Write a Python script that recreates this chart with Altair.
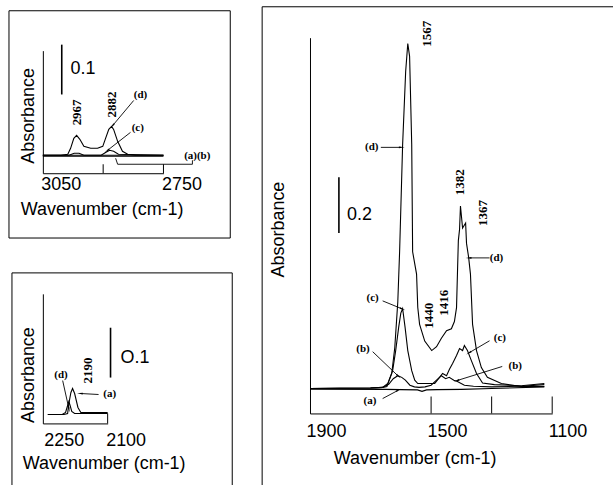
import math
import altair as alt
import pandas as pd

SANS = "Liberation Sans"
SERIF = "Liberation Serif"

# ---------------- Top-left panel: 3050-2750 cm-1 ----------------
TL_WN_A = [3050, 2750]
TL_AB_A = [0.0, 0.0]
TL_WN_B = [3050, 2750]
TL_AB_B = [-0.002, -0.002]
TL_WN_C = [3050, 2985, 2972, 2960, 2948, 2905, 2893, 2884, 2874, 2862, 2750]
TL_AB_C = [0.0, 0.0, 0.004, 0.004, 0.0, 0.0, 0.006, 0.010, 0.008, 0.002, 0.0]
TL_WN_D = [3050, 3005, 2988, 2981, 2973, 2966, 2958, 2948, 2931, 2914, 2901,
           2894, 2886, 2879, 2874, 2864, 2852, 2839, 2820, 2750]
TL_AB_D = [0.0, 0.0, 0.002, 0.014, 0.034, 0.040, 0.032, 0.018, 0.014, 0.014, 0.018,
           0.034, 0.052, 0.058, 0.052, 0.028, 0.008, 0.002, 0.0, 0.0]
TL_PEAK_TEXT = ["2967", "2882"]
TL_PEAK_WN = [2966, 2879]
TL_PEAK_AB = [0.086, 0.102]
TL_LET_TEXT = ["(d)", "(c)", "(a)(b)"]
TL_LET_WN = [2807, 2814, 2666]
TL_LET_AB = [0.120, 0.054, -0.002]
TL_ARROWS = [(2824, 0.110, 2876, 0.060), (2832, 0.046, 2889, 0.010)]
TL_LEADER_WN = [2869, 2864, 2678, 2678]
TL_LEADER_AB = [-0.006, -0.018, -0.018, -0.010]
TL_BAR = (3003, 0.122, 0.222)
TL_BAR_TEXT = ("0.1", 2981, 0.174)
TL_LABELS = [3050, 2750]
TL_TICKS = [2900, 2750]

# ---------------- Bottom-left panel: 2250-2100 cm-1 ----------------
BL_WN_A = [2245, 2206, 2197, 2194, 2189, 2185, 2180, 2172, 2165, 2134, 2100]
BL_AB_A = [0.0, 0.0, 0.002, 0.022, 0.044, 0.052, 0.042, 0.014, 0.004, 0.004, 0.004]
BL_WN_D = [2245, 2210, 2202, 2197, 2194, 2191, 2187, 2180, 2100]
BL_AB_D = [0.0, 0.0, 0.004, 0.018, 0.026, 0.018, 0.006, 0.002, 0.002]
BL_PEAK_TEXT = ["2190"]
BL_PEAK_WN = [2148]
BL_PEAK_AB = [0.088]
BL_LET_TEXT = ["(d)", "(a)"]
BL_LET_WN = [2213, 2095]
BL_LET_AB = [0.080, 0.042]
BL_ARROWS = [(2209, 0.068, 2194, 0.012), (2122, 0.040, 2165, 0.042)]
BL_BAR = (2093, 0.074, 0.174)
BL_BAR_TEXT = ("O.1", 2069, 0.114)
BL_LABELS = [2250, 2100]
BL_TICKS = [2100]

# ---------------- Right panel: 1900-1100 cm-1 ----------------
R_WN_A = [1900, 1650, 1600, 1545, 1530, 1515, 1480, 1400, 1300, 1126]
R_AB_A = [-0.002, -0.003, -0.004, -0.005, -0.010, -0.005, -0.004, -0.003, 0.0, 0.006]
R_WN_B = [1900, 1700, 1660, 1640, 1625, 1610, 1597, 1585, 1570, 1555, 1540, 1520,
          1500, 1482, 1466, 1452, 1440, 1425, 1413, 1390, 1360, 1300, 1200, 1126]
R_AB_B = [0.0, 0.002, 0.004, 0.015, 0.035, 0.046, 0.040, 0.030, 0.012, 0.006, 0.004, 0.006,
          0.012, 0.030, 0.046, 0.035, 0.040, 0.030, 0.025, 0.012, 0.008, 0.006, 0.008, 0.014]
R_WN_C = [1900, 1700, 1660, 1643, 1627, 1617, 1607, 1600, 1594, 1586, 1577, 1564, 1554,
          1544, 1511, 1488, 1472, 1462, 1449, 1439, 1429, 1416, 1406, 1396, 1390, 1380,
          1367, 1350, 1330, 1291, 1202, 1126]
R_AB_C = [0.0, 0.002, 0.004, 0.018, 0.064, 0.136, 0.220, 0.270, 0.286, 0.220, 0.136, 0.064, 0.030,
          0.018, 0.018, 0.018, 0.040, 0.054, 0.046, 0.070, 0.090, 0.118, 0.143, 0.136, 0.154, 0.136,
          0.100, 0.054, 0.020, 0.014, 0.010, 0.018]
R_WN_D = [1900, 1700, 1660, 1646, 1630, 1620, 1610, 1604, 1594, 1584, 1577, 1571, 1564,
          1561, 1548, 1544, 1538, 1521, 1498, 1482, 1466, 1449, 1433, 1423, 1416, 1413,
          1410, 1406, 1403, 1396, 1386, 1383, 1376, 1370, 1363, 1350, 1334, 1314, 1268,
          1202, 1126]
R_AB_D = [0.0, 0.002, 0.004, 0.007, 0.054, 0.146, 0.310, 0.490, 0.875, 1.136, 1.236, 1.190, 0.875,
          0.490, 0.410, 0.290, 0.230, 0.170, 0.136, 0.150, 0.180, 0.207, 0.214, 0.240, 0.290, 0.410,
          0.530, 0.570, 0.654, 0.575, 0.593, 0.520, 0.470, 0.410, 0.230, 0.136, 0.075, 0.040, 0.018,
          0.007, 0.007]
R_PEAK_TEXT = ["1567", "1382", "1367", "1440", "1416"]
R_PEAK_WN = [1515, 1406, 1330, 1508, 1456]
R_PEAK_AB = [1.271, 0.739, 0.629, 0.261, 0.307]
R_LET_TEXT = ["(d)", "(d)", "(c)", "(b)", "(a)", "(c)", "(b)"]
R_LET_WN = [1696, 1284, 1693, 1725, 1702, 1273, 1222]
R_LET_AB = [0.864, 0.468, 0.325, 0.143, -0.043, 0.182, 0.079]
R_ARROWS = [(1666, 0.864, 1600, 0.864), (1307, 0.468, 1373, 0.468),
            (1660, 0.314, 1597, 0.286), (1693, 0.132, 1610, 0.046),
            (1660, -0.036, 1610, -0.007), (1307, 0.171, 1373, 0.129),
            (1265, 0.079, 1413, 0.029)]
R_BAR = (1804.5, 0.557, 0.757)
R_BAR_TEXT = ("0.2", 1778, 0.621)
R_LABELS = [1900, 1500, 1100]
R_TICKS = [1500, 1300, 1100]


def series_df(series):
    rows = []
    for name, (wns, abs_) in series.items():
        for i, (x, y) in enumerate(zip(wns, abs_)):
            rows.append({"series": name, "i": i, "wn": x, "ab": y})
    return pd.DataFrame(rows)


def panel(series, xdom, ydom, w, h, xaxis, yaxis, ticks, tick_len,
          peaks, letters, arrows, leader, bar, bar_text, frame):
    xs = alt.Scale(domain=xdom, nice=False, zero=False)
    ys = alt.Scale(domain=ydom, nice=False, zero=False)

    def X():
        return alt.X("wn:Q", scale=xs, axis=xaxis)

    def Y():
        return alt.Y("ab:Q", scale=ys, axis=yaxis)

    layers = []
    layers.append(
        alt.Chart(series_df(series)).mark_line(color="black", strokeWidth=1.1).encode(
            x=X(), y=Y(), detail="series:N", order="i:Q"))

    # inward ticks
    layers.append(
        alt.Chart(pd.DataFrame({"wn": ticks})).mark_rule(color="black", strokeWidth=1).encode(
            x=X(), y=alt.value(h), y2=alt.value(h - tick_len)))

    # arrows + leader lines
    rows, heads = [], []
    sx = w / (xdom[1] - xdom[0])
    sy = -h / (ydom[1] - ydom[0])
    for k, (x0, y0, x1, y1) in enumerate(arrows):
        rows.append({"id": k, "i": 0, "wn": x0, "ab": y0})
        rows.append({"id": k, "i": 1, "wn": x1, "ab": y1})
        dx, dy = (x1 - x0) * sx, (y1 - y0) * sy
        heads.append({"wn": x1, "ab": y1, "ang": math.degrees(math.atan2(dx, -dy)) % 360})
    if leader:
        for i, (x, y) in enumerate(zip(*leader)):
            rows.append({"id": 99, "i": i, "wn": x, "ab": y})
    layers.append(
        alt.Chart(pd.DataFrame(rows)).mark_line(color="black", strokeWidth=0.9).encode(
            x=X(), y=Y(), detail="id:N", order="i:Q"))
    if heads:
        layers.append(
            alt.Chart(pd.DataFrame(heads)).mark_point(
                shape="wedge", filled=True, color="black", size=45, opacity=1).encode(
                x=X(), y=Y(), angle=alt.Angle("ang:Q", scale=None)))

    # scale bar
    layers.append(
        alt.Chart(pd.DataFrame({"wn": [bar[0]], "ab": [bar[1]], "ab2": [bar[2]]})).mark_rule(
            color="black", strokeWidth=1.6).encode(x=X(), y=Y(), y2="ab2:Q"))
    layers.append(
        alt.Chart(pd.DataFrame({"t": [bar_text[0]], "wn": [bar_text[1]], "ab": [bar_text[2]]}))
        .mark_text(font=SANS, fontSize=18, align="left", baseline="middle", color="black")
        .encode(x=X(), y=Y(), text="t:N"))

    # peak labels (rotated)
    layers.append(
        alt.Chart(pd.DataFrame({"t": peaks[0], "wn": peaks[1], "ab": peaks[2]}))
        .mark_text(font=SERIF, fontSize=13, fontWeight="bold", angle=270,
                   align="center", baseline="middle", color="black")
        .encode(x=X(), y=Y(), text="t:N"))
    # curve letters
    layers.append(
        alt.Chart(pd.DataFrame({"t": letters[0], "wn": letters[1], "ab": letters[2]}))
        .mark_text(font=SERIF, fontSize=11, fontWeight="bold",
                   align="center", baseline="middle", color="black")
        .encode(x=X(), y=Y(), text="t:N"))

    # panel frame edges (pixel offsets relative to the plot area)
    for (a, b, c, d) in frame:
        layers.append(
            alt.Chart(pd.DataFrame({"k": [0]})).mark_rule(color="black", strokeWidth=1).encode(
                x=alt.value(a), x2=alt.value(b), y=alt.value(c), y2=alt.value(d)))

    return alt.layer(*layers).properties(
        width=w, height=h, view=alt.ViewBackground(stroke="transparent", strokeWidth=0))


def x_axis(values, label_pad, label_off, title_x, title_y):
    return alt.Axis(values=values, format="d", ticks=False, grid=False, labelAlign="left",
                    labelBaseline="top", labelFlush=False, labelOverlap=False,
                    labelPadding=label_pad, labelOffset=label_off,
                    labelFont=SANS, labelFontSize=18, labelColor="black",
                    domainColor="black", domainWidth=1,
                    title="Wavenumber (cm-1)", titleFont=SANS, titleFontSize=18,
                    titleFontWeight="normal", titleColor="black",
                    titleX=title_x, titleY=title_y, titleAlign="center", titleBaseline="top")


def y_axis(title_x, title_y):
    return alt.Axis(labels=False, ticks=False, grid=False, domainColor="black", domainWidth=1,
                    title="Absorbance", titleFont=SANS, titleFontSize=18,
                    titleFontWeight="normal", titleColor="black", titleAngle=270,
                    titleX=title_x, titleY=title_y, titleAlign="center", titleBaseline="bottom")


TL_W, TL_H = 121, 123
tl = panel(
    {"a": (TL_WN_A, TL_AB_A), "b": (TL_WN_B, TL_AB_B), "c": (TL_WN_C, TL_AB_C), "d": (TL_WN_D, TL_AB_D)},
    [3050, 2750], [-0.036, 0.21], TL_W, TL_H,
    x_axis(TL_LABELS, 2, -2, 59, 27), y_axis(-5, 65), TL_TICKS, 9,
    (TL_PEAK_TEXT, TL_PEAK_WN, TL_PEAK_AB), (TL_LET_TEXT, TL_LET_WN, TL_LET_AB),
    TL_ARROWS, (TL_LEADER_WN, TL_LEADER_AB), TL_BAR, TL_BAR_TEXT,
    [(-34, 188, -40, -40), (-34, 188, 65 + TL_H, 65 + TL_H),
     (-34, -34, -40, 65 + TL_H), (188, 188, -40, 65 + TL_H)])

BL_W, BL_H = 65, 130
bl = panel(
    {"a": (BL_WN_A, BL_AB_A), "d": (BL_WN_D, BL_AB_D)},
    [2257, 2100], [-0.018, 0.242], BL_W, BL_H,
    x_axis(BL_LABELS, 8, -2, 61, 31), y_axis(-5, 81), BL_TICKS, 10,
    (BL_PEAK_TEXT, BL_PEAK_WN, BL_PEAK_AB), (BL_LET_TEXT, BL_LET_WN, BL_LET_AB),
    BL_ARROWS, None, BL_BAR, BL_BAR_TEXT,
    [(-31, 190, -21, -21), (-31, -31, -21, 192), (190, 190, -21, 192)])

R_W, R_H = 243, 377
rp = panel(
    {"a": (R_WN_A, R_AB_A), "b": (R_WN_B, R_AB_B), "c": (R_WN_C, R_AB_C), "d": (R_WN_D, R_AB_D)},
    [1900, 1100], [-0.0893, 1.257], R_W, R_H,
    x_axis(R_LABELS, 9, -4, 105, 36), y_axis(-23, 192), R_TICKS, 17,
    (R_PEAK_TEXT, R_PEAK_WN, R_PEAK_AB), (R_LET_TEXT, R_LET_WN, R_LET_AB),
    R_ARROWS, None, R_BAR, R_BAR_TEXT,
    [(-48, 304, -31, -31), (-48, -48, -31, 449)])

spacer = alt.Chart(pd.DataFrame({"k": [0]})).mark_point(opacity=0).encode(
    x=alt.value(0), y=alt.value(0)).properties(
    width=TL_W, height=13, view=alt.ViewBackground(stroke="transparent", strokeWidth=0))

left = alt.vconcat(spacer, alt.vconcat(tl, bl, spacing=121, bounds="flush"),
                   spacing=0, bounds="flush")
# nested concat groups count as zero width with flush bounds, so the gap
# includes the left column's plot width
chart = alt.hconcat(left, rp, spacing=147 + TL_W, bounds="flush").properties(
    padding={"left": 8, "top": 5, "right": 0, "bottom": 0}
).configure_view(stroke="transparent", strokeWidth=0).configure(background="white")

chart.save("out.html", embed_options={"renderer": "svg", "actions": False})
